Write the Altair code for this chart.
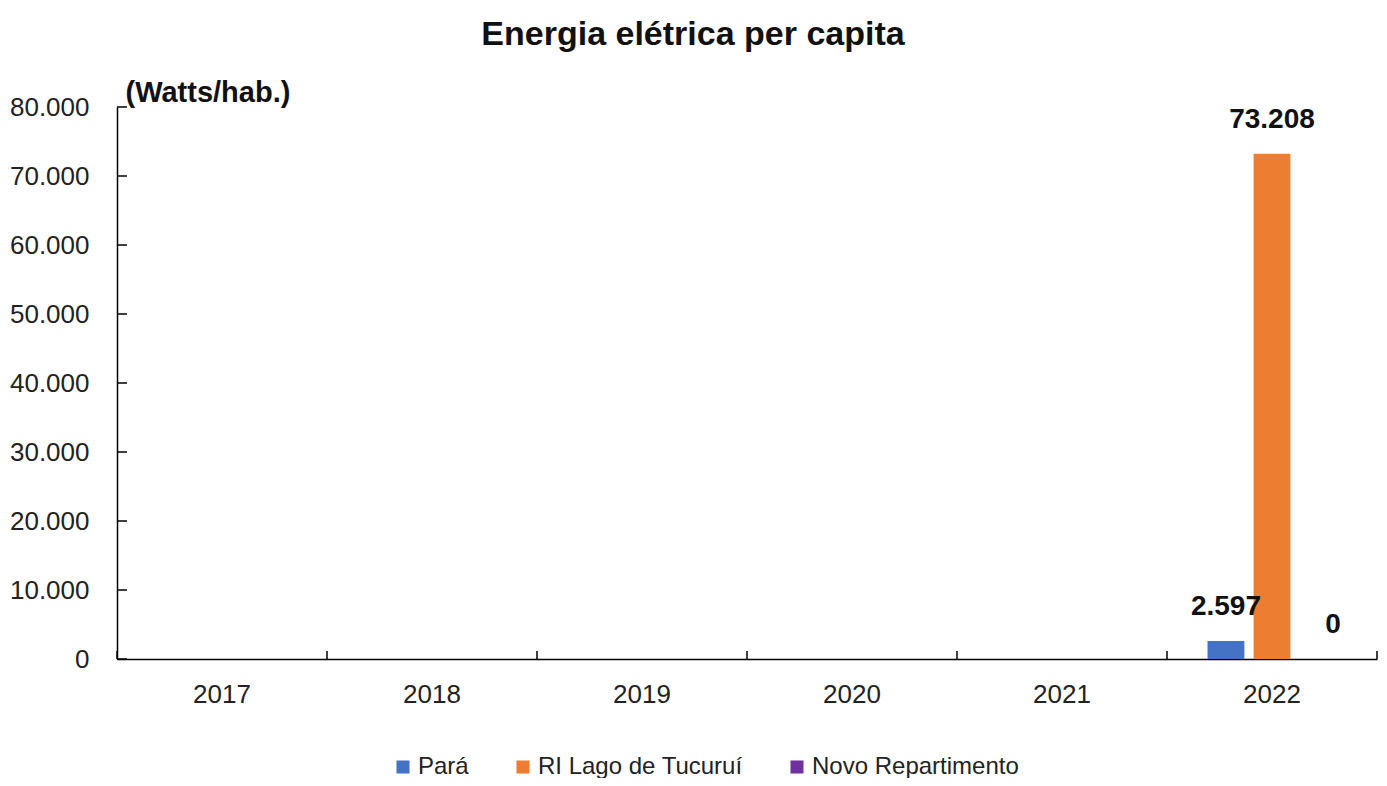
import altair as alt
import pandas as pd

years = ["2017", "2018", "2019", "2020", "2021", "2022"]
series = ["Pará", "RI Lago de Tucuruí", "Novo Repartimento"]
para = [None, None, None, None, None, 2597]
lago = [None, None, None, None, None, 73208]
novo = [None, None, None, None, None, 0]
y_ticks = [0, 10000, 20000, 30000, 40000, 50000, 60000, 70000, 80000]
colors = ["#4472C4", "#ED7D31", "#7030A0"]

rows = []
for s, vals in zip(series, [para, lago, novo]):
    for yr, v in zip(years, vals):
        if v is not None:
            rows.append({"year": yr, "series": s, "value": v})
df = pd.DataFrame(rows)
tick_df = pd.DataFrame({"t": y_ticks})
year_df = pd.DataFrame({"year": years})
last_df = pd.DataFrame({"year": years[-1:]})

FONT = "Liberation Sans, Arial, sans-serif"
W, H = 1260, 552

xscale = alt.Scale(domain=years, paddingInner=0, paddingOuter=0)
yscale = alt.Scale(domain=[0, 80000], nice=False)
offscale = alt.Scale(domain=series, paddingInner=0.2, paddingOuter=0.88)

bars = alt.Chart(df).mark_bar().encode(
    x=alt.X("year:N", scale=xscale, sort=years,
            axis=alt.Axis(title=None, ticks=False, labelAngle=0, labelFont=FONT,
                          labelFontSize=26, labelColor="#222", labelPadding=22,
                          domainColor="#000", domainWidth=1.5)),
    xOffset=alt.XOffset("series:N", scale=offscale, sort=series),
    y=alt.Y("value:Q", scale=yscale,
            axis=alt.Axis(values=y_ticks, ticks=False, grid=False,
                          labelExpr="replace(format(datum.value, ',d'), ',', '.')",
                          labelFont=FONT, labelFontSize=26, labelColor="#222",
                          labelPadding=28, domainColor="#000", domainWidth=1.5,
                          title="(Watts/hab.)", titleAngle=0, titleAlign="left",
                          titleBaseline="alphabetic", titleX=8, titleY=-6,
                          titleFont=FONT, titleFontSize=29, titleFontWeight="bold",
                          titleColor="#111")),
    color=alt.Color("series:N", scale=alt.Scale(domain=series, range=colors),
                    legend=alt.Legend(title=None, orient="none", direction="horizontal",
                                      legendX=274, legendY=648, symbolType="square",
                                      symbolSize=170, symbolStrokeWidth=0,
                                      labelFont=FONT, labelFontSize=24, labelLimit=500,
                                      labelColor="#222", columnPadding=42,
                                      labelOffset=3)),
)


def label_layer(flt, dx):
    return alt.Chart(df).transform_filter(flt).transform_calculate(
        label="replace(format(datum.value, ',d'), ',', '.')"
    ).mark_text(font=FONT, fontSize=28, fontWeight="bold", baseline="bottom",
                dy=-20, dx=dx, color="#111").encode(
        x=alt.X("year:N", scale=xscale, sort=years),
        xOffset=alt.XOffset("series:N", scale=offscale, sort=series),
        y=alt.Y("value:Q", scale=yscale),
        text="label:N",
    )


labels_main = label_layer(f"datum.series != '{series[2]}'", 0)
labels_last = label_layer(f"datum.series == '{series[2]}'", 15)

xticks = alt.Chart(year_df).mark_rule(color="#000", strokeWidth=1.5).encode(
    x=alt.X("year:N", scale=xscale, sort=years, bandPosition=0),
    y=alt.value(H - 8), y2=alt.value(H),
)
xticks_end = alt.Chart(last_df).mark_rule(color="#000", strokeWidth=1.5).encode(
    x=alt.X("year:N", scale=xscale, sort=years, bandPosition=1),
    y=alt.value(H - 8), y2=alt.value(H),
)
yticks = alt.Chart(tick_df).mark_rule(color="#000", strokeWidth=1.5).encode(
    y=alt.Y("t:Q", scale=yscale),
    x=alt.value(0), x2=alt.value(10),
)

chart = alt.layer(bars, labels_main, labels_last, xticks, xticks_end, yticks).properties(
    width=W, height=H,
    background="white",
    autosize=alt.AutoSizeParams(type="none"),
    padding={"left": 109, "top": 99, "right": 2, "bottom": 119},
    title=alt.TitleParams("Energia elétrica per capita", font=FONT, fontSize=34,
                          fontWeight="bold", color="#111", anchor="middle",
                          dx=-54, offset=26),
).configure_view(strokeWidth=0, stroke="transparent")

chart.save("out.html", embed_options={"renderer": "svg", "actions": False})
